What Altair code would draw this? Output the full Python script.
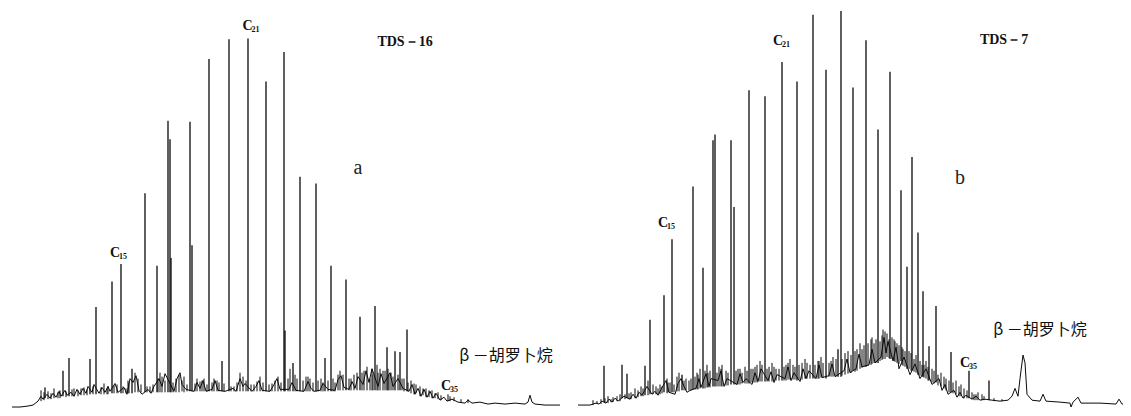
import altair as alt
import pandas as pd

# ---------------- Panel a : TDS-16 ----------------
# noisy baseline (retention time, response)
a_base_t = [0.4, 1.2, 2.0, 2.5, 3.0, 3.3, 3.5, 3.9, 4.2, 4.5, 4.8, 5.1, 5.3, 5.7, 5.9, 6.3, 6.6, 6.9,
            7.2, 7.5, 7.8, 8.0, 8.4, 8.6, 9.1, 9.4, 9.7, 10.0, 10.2, 10.7, 11.0, 11.6, 11.9, 12.2,
            12.5, 12.8, 13.1, 13.4, 14.0, 14.3, 14.6, 15.1, 15.4, 15.7, 16.6, 16.9, 17.2, 17.4,
            17.8, 18.6, 18.9, 19.2, 19.5, 19.8, 20.4, 20.7, 21.0, 21.7, 22.5, 22.8, 23.2, 23.5,
            23.7, 24.4, 24.8, 25.1, 25.4, 26.2, 26.6, 26.9, 27.2, 28.1, 28.4, 28.8, 29.6, 30.0,
            30.3, 30.6, 31.2, 31.5, 32.0, 32.7, 33.0, 33.3, 33.6, 34.1, 34.4, 34.7, 35.0, 35.5,
            35.8, 36.1, 36.4, 37.0, 37.3, 37.6, 38.2, 38.5, 39.0, 39.5, 40.1, 40.4, 40.7, 41.0,
            41.3, 41.6, 41.9, 42.2, 42.5, 42.8, 43.2, 43.6, 43.9, 44.4, 45.0, 45.7, 46.0, 46.4,
            47.2, 48.0, 48.7, 49.7, 50.7, 51.7, 52.0, 52.2, 52.4, 52.7, 53.7, 55.2]
a_base_r = [1, 1, 2, 3, 7, 12, 9, 14, 10, 15, 11, 17, 12, 18, 13, 16, 12, 19,
            14, 20, 15, 22, 16, 24, 15, 21, 16, 22, 17, 25, 16, 21, 14, 30,
            26, 33, 18, 14, 19, 15, 22, 30, 22, 35, 17, 30, 36, 24,
            19, 17, 26, 20, 28, 17, 19, 28, 18, 17, 20, 17, 30, 22,
            25, 17, 22, 28, 18, 17, 24, 30, 19, 19, 26, 18, 17, 27,
            20, 17, 18, 25, 19, 18, 29, 33, 21, 19, 27, 20, 32, 24,
            38, 26, 40, 22, 35, 25, 36, 22, 30, 20, 17, 24, 14, 20,
            12, 19, 11, 17, 10, 15, 8, 11, 7, 9, 6, 5, 8, 5,
            6, 4, 5, 4, 5, 4, 6, 13, 6, 4, 3, 3]

# n-alkane and other sharp peaks: retention time, apex response, foot response
a_peak_t = [3.7, 5.5, 6.1, 8.2, 8.8, 10.4, 11.3, 12.4, 13.7, 14.9, 16.0, 16.2, 16.3, 18.2, 18.4,
            20.1, 21.4, 22.1, 24.0, 25.8, 27.6, 27.7, 28.5, 29.2, 30.8, 31.7, 32.3, 33.8, 35.2,
            36.7, 37.9, 38.7, 39.2, 39.9]
a_peak_top = [21, 38, 51, 50, 103, 129, 147, 40, 219, 145, 293, 274, 153, 292, 166,
              356, 48, 376, 377, 333, 363, 79, 46, 236, 229, 51, 145, 131, 93,
              104, 62, 58, 57, 80]
a_peak_foot = [10, 12, 12, 14, 14, 15, 15, 15, 16, 16, 16, 16, 16, 17, 17,
               17, 17, 17, 17, 17, 17, 17, 17, 17, 17, 17, 17, 18, 18,
               18, 18, 18, 18, 17]

# small unresolved spikes riding on the hump
a_minor_t = [3.3, 4.0, 4.6, 5.0, 6.6, 7.0, 7.6, 9.6, 10.0, 10.9, 12.0, 12.7, 13.0, 14.2, 15.2,
             15.4, 16.8, 17.1, 17.6, 18.9, 19.4, 19.6, 20.6, 21.1, 22.6, 23.2, 23.5, 24.6, 25.2,
             26.4, 27.0, 28.2, 28.9, 29.8, 30.2, 31.0, 31.5, 32.7, 33.2, 33.5, 34.3, 34.9, 35.6,
             35.9, 36.2, 36.9, 37.2, 37.5, 38.0, 38.3, 39.6, 40.3, 40.6, 41.2, 41.8, 42.4, 43.0,
             44.0, 44.2, 46.0,
             3.6, 4.3, 5.2, 5.8, 6.4, 7.3, 7.9, 8.5, 9.3, 9.9, 10.6, 11.5, 11.8, 12.1, 13.3,
             13.9, 14.5, 15.0, 15.7, 16.5, 17.4, 17.9, 18.7, 19.2, 19.9, 20.4, 20.9, 21.6, 22.3,
             22.9, 23.8, 24.3, 24.9, 25.5, 26.1, 26.7, 27.3, 28.0, 28.7, 29.5, 30.0, 30.5, 31.3,
             32.0, 32.5, 33.0, 34.1, 34.6, 35.4, 36.4, 36.5, 37.0, 37.7, 38.1, 38.5, 39.0, 39.4,
             40.0, 40.8, 41.5, 42.1, 42.7, 43.3, 44.6, 45.3]
a_minor_top = [18, 17, 20, 16, 20, 18, 21, 25, 22, 24, 28, 36, 30, 22, 36,
               32, 30, 34, 32, 30, 28, 30, 30, 26, 22, 36, 32, 24, 32,
               25, 32, 40, 30, 32, 30, 28, 26, 26, 38, 34, 30, 36, 38,
               42, 30, 44, 40, 38, 40, 36, 30, 28, 25, 22, 20, 18, 16,
               14, 12, 9,
               16, 15, 18, 17, 19, 20, 19, 22, 21, 20, 23, 22, 20, 26, 24,
               22, 24, 30, 28, 26, 28, 24, 25, 27, 24, 26, 28, 25, 22,
               26, 28, 24, 27, 26, 24, 28, 26, 30, 34, 28, 32, 26, 30,
               28, 30, 34, 30, 34, 36, 40, 34, 36, 38, 34, 32, 34, 30,
               26, 24, 20, 18, 15, 13, 11, 9]
a_minor_foot = [7, 9, 10, 10, 12, 12, 13, 14, 14, 15, 15, 16, 16, 16, 16,
                16, 16, 16, 16, 17, 17, 17, 17, 17, 17, 17, 17, 17, 17,
                17, 17, 17, 17, 17, 17, 17, 17, 17, 18, 18, 18, 18, 18,
                18, 18, 18, 18, 18, 18, 18, 17, 15, 14, 12, 11, 10, 9,
                7, 7, 5,
                8, 9, 10, 11, 12, 13, 13, 14, 14, 14, 15, 15, 15, 15, 16,
                16, 16, 16, 16, 16, 17, 17, 17, 17, 17, 17, 17, 17, 17,
                17, 17, 17, 17, 17, 17, 17, 17, 17, 17, 17, 17, 17, 17,
                17, 17, 18, 18, 18, 18, 18, 18, 18, 18, 18, 18, 18, 18,
                17, 15, 13, 11, 10, 8, 7, 6]

# ---------------- Panel b : TDS-7 ----------------
b_base_t = [0.6, 1.8, 2.4, 2.7, 3.0, 3.4, 3.7, 4.0, 4.3, 4.6, 5.2, 5.8, 6.1, 6.4, 6.7, 7.0, 7.5,
            8.0, 8.3, 8.6, 8.9, 9.4, 9.7, 10.3, 10.6, 10.9, 11.2, 11.5, 11.8, 12.4, 12.7, 12.9,
            13.4, 13.7, 13.9, 14.6, 14.9, 15.2, 15.5, 16.5, 16.8, 17.1, 17.4, 18.0, 18.3, 18.6,
            18.9, 19.6, 19.9, 20.2, 20.5, 21.3, 21.6, 21.9, 22.2, 22.8, 23.1, 23.4, 23.7, 24.4,
            24.7, 25.0, 25.7, 26.0, 26.3, 27.2, 27.5, 27.8, 28.4, 28.7, 29.0, 29.7, 30.0, 30.3,
            30.9, 31.2, 31.4, 31.6, 32.1, 32.4, 32.7, 33.2, 33.8, 34.3, 34.8, 35.4, 36.0, 36.7,
            37.0, 37.3, 37.6, 38.2, 38.5, 38.8, 39.1, 39.4, 40.0, 40.4, 40.8, 41.3, 42.0, 42.8,
            43.6, 44.0, 44.3, 44.6, 44.8, 45.1, 45.3, 45.5, 46.0, 46.8, 47.1, 47.4, 48.8, 49.8,
            49.9, 50.1, 50.6, 50.9, 52.8, 54.4, 54.7, 55.0, 55.1]
b_base_r = [3, 3, 5, 4, 7, 5, 9, 6, 10, 7, 12, 9, 14, 10, 16, 13, 22,
            14, 17, 13, 19, 28, 16, 14, 25, 30, 22, 16, 18, 20, 30, 21,
            35, 22, 30, 28, 38, 22, 30, 24, 35, 26, 30, 24, 36, 27,
            40, 28, 37, 26, 34, 30, 42, 28, 36, 27, 40, 30, 38, 30,
            44, 31, 33, 45, 32, 38, 50, 36, 40, 55, 42, 44, 60, 46,
            52, 72, 56, 68, 48, 62, 40, 52, 34, 45, 30, 40, 24, 30,
            18, 24, 14, 18, 11, 16, 10, 13, 9, 12, 8, 9, 8, 7,
            8, 12, 20, 12, 30, 54, 46, 14, 8, 7, 14, 7, 6, 5,
            1, 6, 11, 5, 5, 4, 9, 4, 4]

b_peak_t = [3.2, 5.0, 5.5, 7.3, 7.8, 9.2, 10.0, 11.0, 12.1, 13.1, 14.1, 14.3, 15.9, 16.2, 17.7,
            19.3, 21.0, 22.5, 24.1, 25.4, 26.6, 26.9, 28.1, 29.4, 30.6, 31.8, 32.9, 33.5, 34.0,
            34.6, 35.1, 35.7, 36.4, 37.9, 39.7, 41.7]
b_peak_top = [43, 44, 35, 43, 90, 115, 172, 34, 226, 143, 273, 279, 273, 205, 324,
              318, 353, 333, 401, 345, 60, 405, 327, 375, 284, 343, 222, 144, 256,
              179, 119, 63, 104, 57, 38, 28]
b_peak_foot = [6, 10, 10, 13, 14, 16, 16, 18, 19, 20, 22, 22, 24, 24, 25,
               27, 28, 28, 30, 30, 32, 32, 38, 42, 46, 50, 48, 40, 38,
               34, 32, 28, 26, 16, 10, 8]

b_minor_t = [2.1, 2.9, 3.6, 4.1, 4.8, 5.9, 6.3, 6.9, 7.6, 8.4, 8.8, 9.5, 9.8, 10.5, 10.7,
             11.4, 11.7, 12.5, 12.8, 13.5, 13.8, 14.7, 15.0, 15.4, 16.6, 17.0, 17.3, 18.1, 18.5,
             18.8, 19.7, 20.0, 20.4, 21.4, 21.8, 22.1, 23.0, 23.3, 23.8, 24.6, 24.9, 25.7, 26.1,
             27.3, 27.6, 28.5, 28.8, 29.9, 30.2, 30.8, 31.1, 31.5, 32.2, 32.5, 33.0, 33.3, 33.9,
             34.4, 35.0, 35.4, 36.0, 36.9, 37.4, 38.4, 38.9, 39.2, 40.2, 40.6, 41.0,
             2.5, 3.3, 3.9, 4.5, 5.3, 5.7, 6.6, 7.1, 8.1, 8.6, 9.0, 9.6, 10.2, 11.2, 11.9,
             12.3, 12.6, 13.3, 13.6, 14.5, 14.9, 15.6, 16.4, 16.8, 17.5, 17.9, 18.3, 19.0, 19.5,
             20.2, 20.7, 21.2, 21.6, 22.3, 22.7, 23.5, 24.3, 24.7, 25.1, 25.9, 26.4, 27.0, 27.9,
             28.3, 29.0, 29.2, 29.6, 30.0, 30.4, 31.0, 31.3, 31.7, 32.0, 32.3, 32.7, 33.1, 33.7,
             34.2, 34.8, 35.2, 35.6, 36.2, 36.6, 37.2, 37.7, 38.1, 38.7, 39.5, 40.0, 40.4, 41.2,
             42.2, 43.0]
b_minor_top = [8, 9, 12, 11, 14, 16, 20, 22, 28, 22, 24, 30, 26, 32, 36,
               30, 28, 36, 40, 44, 38, 42, 44, 38, 40, 36, 42, 40, 44,
               48, 42, 46, 40, 44, 50, 44, 46, 50, 44, 48, 52, 46, 52,
               56, 58, 60, 66, 70, 66, 68, 80, 76, 70, 66, 62, 58, 56,
               54, 44, 48, 40, 36, 30, 28, 24, 20, 14, 16, 14,
               7, 10, 9, 12, 14, 15, 18, 20, 24, 20, 22, 26, 24, 28, 30,
               32, 34, 38, 36, 36, 40, 36, 38, 40, 38, 40, 42, 44, 40,
               42, 40, 42, 46, 42, 44, 46, 44, 48, 46, 48, 50, 50, 54,
               58, 60, 64, 66, 72, 70, 74, 78, 70, 72, 68, 64, 60, 58,
               50, 48, 44, 42, 38, 34, 32, 28, 26, 22, 18, 16, 14, 12,
               10, 9]
b_minor_foot = [3, 4, 5, 6, 7, 9, 10, 12, 13, 14, 14, 15, 16, 17, 17,
                18, 18, 19, 20, 21, 21, 22, 22, 23, 24, 25, 25, 26, 26,
                27, 27, 27, 28, 28, 29, 29, 29, 30, 30, 30, 31, 32, 32,
                34, 35, 38, 40, 44, 46, 48, 50, 52, 48, 46, 44, 42, 38,
                36, 32, 30, 26, 22, 18, 14, 12, 10, 8, 8, 8,
                4, 5, 6, 7, 9, 9, 11, 12, 14, 14, 15, 16, 16, 18, 18,
                19, 19, 20, 21, 22, 22, 23, 24, 24, 25, 26, 26, 27, 27,
                28, 28, 28, 29, 29, 29, 30, 30, 30, 31, 32, 32, 33, 36,
                37, 41, 42, 43, 45, 46, 49, 50, 51, 50, 47, 45, 43, 40,
                37, 33, 31, 28, 25, 23, 20, 16, 15, 12, 10, 9, 8, 8,
                7, 7]

# ---------------- annotations ----------------
a_sub_t = [23.95, 10.7, 43.8]
a_sub_r = [390, 158, 22]
a_sub_n = ["21", "15", "35"]
b_sub_t = [20.6, 9.1, 39.3]
b_sub_r = [374, 189, 46]
b_sub_n = ["21", "15", "35"]

a_name, a_name_t, a_name_r = "TDS－16", 39.7, 373
b_name, b_name_t, b_name_r = "TDS－7", 43.2, 375
a_letter, a_letter_t, a_letter_r = "a", 35.0, 245
b_letter, b_letter_t, b_letter_r = "b", 38.8, 235
carotane = "β －胡罗卜烷"
a_car_t, a_car_r = 49.8, 53
b_car_t, b_car_r = 46.8, 80

INK = "#0a0a0a"
Y_DOMAIN = [0, 408]
PLOT_H = 400


def panel(base_t, base_r, pk_t, pk_top, pk_foot, mn_t, mn_top, mn_foot,
          sub_t, sub_r, sub_n, name, name_t, name_r, letter, letter_t, letter_r,
          car_t, car_r, x_max, width):
    xs = alt.Scale(domain=[0, x_max], nice=False, zero=False)
    ys = alt.Scale(domain=Y_DOMAIN, nice=False, zero=False)
    X = alt.X("t:Q", scale=xs, axis=None)
    Y = alt.Y("r:Q", scale=ys, axis=None)
    base = pd.DataFrame({"t": base_t, "r": base_r})
    peaks = pd.DataFrame({"t": pk_t, "top": pk_top, "foot": pk_foot})
    minors = pd.DataFrame({"t": mn_t, "top": mn_top, "foot": mn_foot})
    subs = pd.DataFrame({"t": sub_t, "r": sub_r, "n": sub_n})
    names = pd.DataFrame({"t": [name_t], "r": [name_r], "s": [name]})
    letters = pd.DataFrame({"t": [letter_t], "r": [letter_r], "s": [letter]})
    cars = pd.DataFrame({"t": [car_t], "r": [car_r], "s": [carotane]})

    line = alt.Chart(base).mark_line(color=INK, strokeWidth=1.0, clip=True).encode(x=X, y=Y)
    minor_rules = alt.Chart(minors).mark_rule(color=INK, strokeWidth=1.0).encode(
        x=X, y=alt.Y("top:Q", scale=ys, axis=None), y2="foot:Q",
    )
    rules = alt.Chart(peaks).mark_rule(color=INK, strokeWidth=1.3).encode(
        x=X, y=alt.Y("top:Q", scale=ys, axis=None), y2="foot:Q",
    )
    c_txt = alt.Chart(subs).mark_text(
        text="C", font="Liberation Serif", fontWeight="bold", fontSize=14,
        color="#111", align="center", baseline="middle",
    ).encode(x=X, y=Y)
    n_txt = alt.Chart(subs).mark_text(
        font="Liberation Serif", fontWeight="bold", fontSize=8,
        color="#111", align="left", baseline="middle", dx=4, dy=4,
    ).encode(x=X, y=Y, text="n:N")
    name_txt = alt.Chart(names).mark_text(
        font="Liberation Serif", fontWeight="bold", fontSize=14,
        color="#111", align="center", baseline="middle",
    ).encode(x=X, y=Y, text="s:N")
    letter_txt = alt.Chart(letters).mark_text(
        font="Liberation Serif", fontSize=20, color="#222",
        align="center", baseline="middle",
    ).encode(x=X, y=Y, text="s:N")
    car_txt = alt.Chart(cars).mark_text(
        font="Noto Sans CJK SC", fontSize=16, color="#111",
        align="center", baseline="middle",
    ).encode(x=X, y=Y, text="s:N")
    return alt.layer(line, minor_rules, rules, c_txt, n_txt, name_txt, letter_txt,
                     car_txt).properties(width=width, height=PLOT_H)


pa = panel(a_base_t, a_base_r, a_peak_t, a_peak_top, a_peak_foot,
           a_minor_t, a_minor_top, a_minor_foot, a_sub_t, a_sub_r, a_sub_n,
           a_name, a_name_t, a_name_r, a_letter, a_letter_t, a_letter_r, a_car_t, a_car_r,
           56.0, 560)
pb = panel(b_base_t, b_base_r, b_peak_t, b_peak_top, b_peak_foot,
           b_minor_t, b_minor_top, b_minor_foot, b_sub_t, b_sub_r, b_sub_n,
           b_name, b_name_t, b_name_r, b_letter, b_letter_t, b_letter_r, b_car_t, b_car_r,
           55.1, 551)

chart = alt.hconcat(pa, pb, spacing=4).properties(padding=0, background="white").configure_view(stroke=None)

chart.save("out.html", embed_options={"renderer": "svg", "actions": False})
